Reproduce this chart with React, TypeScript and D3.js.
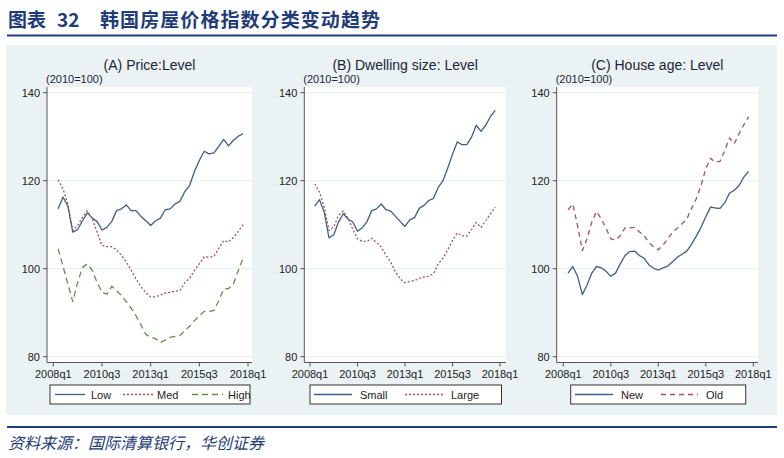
import React from "react";
import * as d3 from "d3";

// ---- data (quarter index 1..39 = 2008q2..2017q4) ----
const xTickValues = [0, 10, 20, 30, 40];
const xTickLabels = ["2008q1", "2010q3", "2013q1", "2015q3", "2018q1"];
const yTickValues = [80, 100, 120, 140];

const lowPrice = [113.6, 116.3, 114.2, 108.3, 108.9, 110.9, 112.7, 111.5, 110.7, 108.8, 109.4, 110.7, 113.2, 113.6, 114.5, 113.2, 113.2, 111.9, 110.9, 109.8, 110.9, 111.5, 113.4, 113.6, 114.7, 115.3, 117.5, 118.9, 122.1, 124.6, 126.7, 126.1, 126.3, 127.8, 129.4, 127.9, 129.2, 130.1, 130.7];
const medPrice = [120.2, 118.1, 114.7, 108.7, 109.8, 111.7, 113.2, 111.3, 108.3, 105.3, 105.0, 105.0, 104.3, 103.0, 101.5, 99.6, 97.7, 95.9, 94.6, 93.6, 93.6, 94.0, 94.5, 94.6, 94.9, 95.0, 96.8, 97.8, 99.6, 101.1, 102.7, 102.6, 102.8, 104.6, 106.4, 106.1, 107.1, 108.5, 110.0];
const highPrice = [104.5, 100.5, 96.5, 92.5, 96.9, 100.3, 101.1, 99.6, 96.9, 94.6, 94.2, 96.0, 95.0, 93.9, 92.5, 91.0, 89.3, 87.2, 85.1, 84.4, 84.1, 83.2, 83.8, 84.4, 84.6, 84.8, 85.9, 86.9, 88.2, 89.3, 90.3, 90.3, 90.5, 92.7, 95.4, 95.5, 96.5, 99.6, 102.4];

const smallSize = [114.2, 115.7, 112.8, 107.0, 107.7, 110.6, 112.5, 111.3, 110.6, 108.5, 109.3, 110.7, 113.2, 113.6, 114.7, 113.4, 113.1, 111.9, 110.7, 109.6, 111.1, 111.6, 113.7, 114.4, 115.5, 116.0, 118.5, 120.0, 122.9, 126.0, 128.8, 128.2, 128.2, 129.9, 132.6, 131.2, 132.6, 134.6, 136.0];
const largeSize = [119.3, 117.4, 114.0, 108.7, 109.5, 112.1, 113.1, 111.5, 109.0, 106.8, 106.2, 106.2, 106.9, 106.0, 104.9, 103.0, 101.5, 99.2, 97.7, 96.8, 97.1, 97.3, 97.8, 98.1, 98.3, 98.9, 101.1, 102.4, 104.3, 106.4, 108.1, 107.5, 107.4, 108.9, 110.5, 109.4, 110.9, 112.5, 114.0];

const newAge = [99.0, 100.5, 98.3, 94.1, 96.3, 99.0, 100.5, 100.2, 99.4, 98.3, 99.0, 101.1, 103.0, 103.9, 104.0, 103.0, 102.4, 100.9, 100.1, 99.7, 100.2, 100.6, 101.6, 102.6, 103.3, 104.0, 105.6, 107.4, 109.4, 111.8, 114.0, 113.8, 113.7, 115.0, 117.2, 117.8, 118.9, 120.8, 122.1];
const oldAge = [113.4, 114.7, 109.8, 104.1, 106.8, 110.6, 113.0, 111.3, 109.2, 106.8, 106.5, 107.5, 109.3, 109.3, 109.4, 108.4, 107.5, 106.0, 105.0, 104.3, 105.4, 106.8, 108.3, 109.2, 110.2, 111.3, 113.7, 115.9, 118.9, 122.7, 125.1, 124.2, 124.4, 126.9, 129.7, 128.4, 130.7, 132.7, 134.5];

const firstQuarter = 1;

// ---- styles ----
const BLUE = "#3e5f87";
const RED = "#a9505a";
const GREEN = "#6a8a48";
const SANS = "'Liberation Sans', Arial, 'DejaVu Sans', sans-serif";
const CJK = "'Noto Sans CJK SC', sans-serif";
const NAVY = "#1f3c78";

type Series = { name: string; values: number[]; color: string; dash?: string; lx0: number; lx1: number; tx: number };
type PanelCfg = {
  title: string;
  axisX: number;
  right: number;
  t0: number;
  t40: number;
  legX0: number;
  legX1: number;
  series: Series[];
};

const panels: PanelCfg[] = [
  {
    title: "(A) Price:Level",
    axisX: 47, right: 252, t0: 53.3, t40: 248,
    legX0: 50, legX1: 250,
    series: [
      { name: "Low", values: lowPrice, color: BLUE, lx0: 55, lx1: 85, tx: 91 },
      { name: "Med", values: medPrice, color: RED, dash: "2,2", lx0: 123, lx1: 153, tx: 157 },
      { name: "High", values: highPrice, color: GREEN, dash: "6,4", lx0: 192, lx1: 223, tx: 228 },
    ],
  },
  {
    title: "(B) Dwelling size: Level",
    axisX: 304.3, right: 506, t0: 310, t40: 500,
    legX0: 310, legX1: 501.5,
    series: [
      { name: "Small", values: smallSize, color: BLUE, lx0: 314, lx1: 352, tx: 360 },
      { name: "Large", values: largeSize, color: RED, dash: "2,2", lx0: 405, lx1: 443, tx: 451 },
    ],
  },
  {
    title: "(C) House age: Level",
    axisX: 556.7, right: 758, t0: 563.3, t40: 753.3,
    legX0: 570.7, legX1: 745.7,
    series: [
      { name: "New", values: newAge, color: BLUE, lx0: 575, lx1: 613, tx: 621 },
      { name: "Old", values: oldAge, color: RED, dash: "5,4", lx0: 661, lx1: 698, tx: 706 },
    ],
  },
];

const PLOT_TOP = 87;
const PLOT_BOTTOM = 362.5;

function Panel({ cfg }: { cfg: PanelCfg }) {
  const x = d3.scaleLinear().domain([0, 40]).range([cfg.t0, cfg.t40]);
  const y = d3.scaleLinear().domain([80, 140]).range([356.7, 92.7]);
  const line = d3
    .line<number>()
    .x((_, i) => x(i + firstQuarter))
    .y((v) => y(v));
  const center = (cfg.axisX + cfg.right) / 2;
  return (
    <g>
      <rect x={cfg.axisX} y={PLOT_TOP} width={cfg.right - cfg.axisX} height={PLOT_BOTTOM - PLOT_TOP} fill="#ffffff" />
      {yTickValues.map((v) => (
        <line key={v} x1={cfg.axisX} x2={cfg.right} y1={y(v)} y2={y(v)} stroke="#eaf1f3" strokeWidth={1.2} />
      ))}
      {cfg.series.map((s) => (
        <path key={s.name} d={line(s.values) || ""} fill="none" stroke={s.color} strokeWidth={1.3} strokeDasharray={s.dash} strokeLinejoin="round" />
      ))}
      <line x1={cfg.axisX} x2={cfg.axisX} y1={PLOT_TOP} y2={PLOT_BOTTOM} stroke="#555" strokeWidth={1} />
      <line x1={cfg.axisX} x2={cfg.right} y1={PLOT_BOTTOM} y2={PLOT_BOTTOM} stroke="#555" strokeWidth={1} />
      {yTickValues.map((v) => (
        <g key={v}>
          <line x1={cfg.axisX - 4} x2={cfg.axisX} y1={y(v)} y2={y(v)} stroke="#555" strokeWidth={1} />
          <text x={cfg.axisX - 7} y={y(v) + 4} textAnchor="end" fontFamily={SANS} fontSize={11} fill="#222">
            {v}
          </text>
        </g>
      ))}
      {xTickValues.map((v, i) => (
        <g key={v}>
          <line x1={x(v)} x2={x(v)} y1={PLOT_BOTTOM} y2={PLOT_BOTTOM + 4} stroke="#555" strokeWidth={1} />
          <text x={x(v)} y={377.5} textAnchor="middle" fontFamily={SANS} fontSize={11} fill="#222">
            {xTickLabels[i]}
          </text>
        </g>
      ))}
      <text x={center} y={70} textAnchor="middle" fontFamily={SANS} fontSize={14} fill="#1c2638">
        {cfg.title}
      </text>
      <text x={cfg.axisX - 1} y={83} fontFamily={SANS} fontSize={11} fill="#1c2638">
        (2010=100)
      </text>
      <rect x={cfg.legX0} y={385} width={cfg.legX1 - cfg.legX0} height={19} fill="#fff" stroke="#333" strokeWidth={1} />
      {cfg.series.map((s) => (
        <g key={s.name}>
          <line x1={s.lx0} x2={s.lx1} y1={394.5} y2={394.5} stroke={s.color} strokeWidth={1.3} strokeDasharray={s.dash} />
          <text x={s.tx} y={398.5} fontFamily={SANS} fontSize={11} fill="#222">
            {s.name}
          </text>
        </g>
      ))}
    </g>
  );
}

export default function App() {
  return (
    <svg width={784} height={458} style={{ position: "absolute", left: 0, top: 0, background: "#fff" }}>
      <rect x={0} y={0} width={784} height={458} fill="#fff" />
      <text x={8} y={27} fontFamily={CJK} fontWeight="bold" fontSize={19} fill={NAVY}>
        图表
      </text>
      <text x={57} y={27} fontFamily={CJK} fontWeight="bold" fontSize={19} fill={NAVY}>
        32
      </text>
      <text x={100} y={27} fontFamily={CJK} fontWeight="bold" fontSize={19} fill={NAVY} textLength={280}>
        韩国房屋价格指数分类变动趋势
      </text>
      <line x1={7} x2={777} y1={35.5} y2={35.5} stroke={NAVY} strokeWidth={2} />
      <rect x={6} y={45} width={771} height={370} fill="#eaf2f3" />
      {panels.map((p) => (
        <Panel key={p.title} cfg={p} />
      ))}
      <line x1={7} x2={777} y1={427} y2={427} stroke={NAVY} strokeWidth={2} />
      <text x={8} y={449} fontFamily={CJK} fontStyle="italic" fontSize={16} fill={NAVY}>
        资料来源：国际清算银行，华创证券
      </text>
    </svg>
  );
}
